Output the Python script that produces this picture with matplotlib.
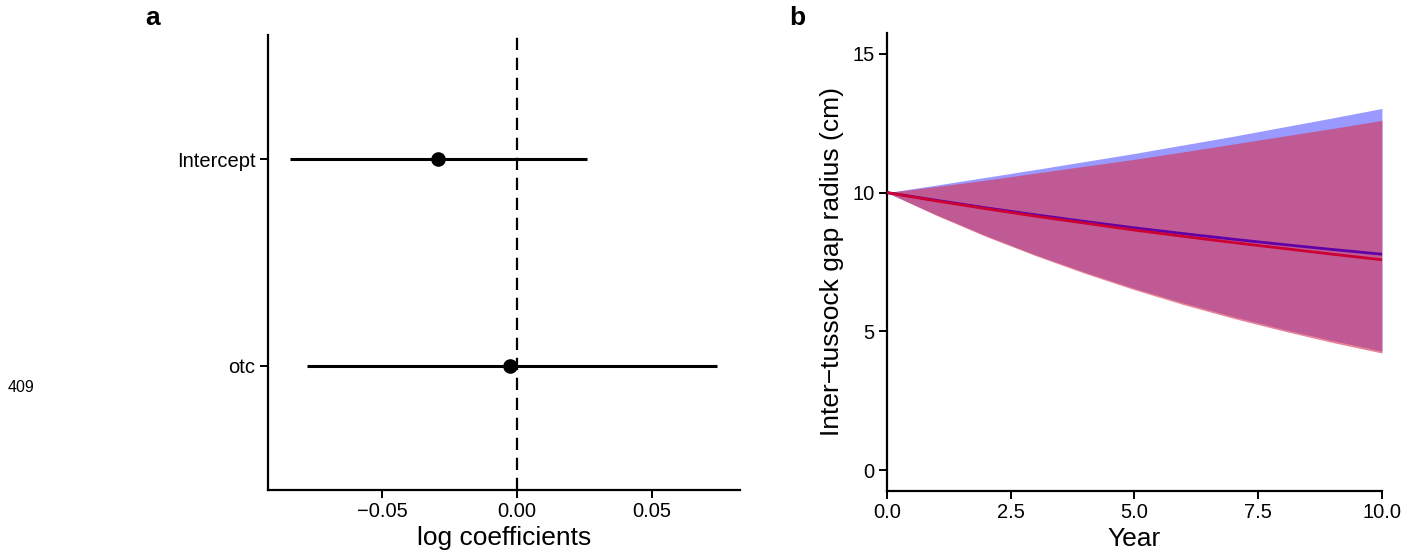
import matplotlib
matplotlib.use("Agg")
import matplotlib.pyplot as plt

plt.rcParams['font.family'] = ['Liberation Sans', 'DejaVu Sans']

# panel a: coefficient estimates with intervals
terms = ["otc", "Intercept"]
est = [-0.0026, -0.0293]
lo = [-0.0778, -0.0841]
hi = [0.0741, 0.0259]

# panel b: predicted gap radius over time
years = [0, 1, 2, 3, 4, 5, 6, 7, 8, 9, 10]
blue_mid = [10, 9.72, 9.45, 9.20, 8.96, 8.73, 8.52, 8.32, 8.13, 7.95, 7.78]
blue_lo = [10, 9.20, 8.45, 7.76, 7.13, 6.55, 6.02, 5.53, 5.08, 4.67, 4.29]
blue_hi = [10, 10.27, 10.55, 10.83, 11.12, 11.41, 11.72, 12.03, 12.36, 12.69, 13.03]
red_mid = [10, 9.70, 9.42, 9.15, 8.90, 8.65, 8.42, 8.20, 7.99, 7.78, 7.58]
red_lo = [10, 9.18, 8.42, 7.73, 7.09, 6.50, 5.96, 5.47, 5.02, 4.60, 4.22]
red_hi = [10, 10.22, 10.45, 10.70, 10.95, 11.20, 11.47, 11.75, 12.03, 12.31, 12.60]

fig = plt.figure(figsize=(14.21, 5.58), dpi=100)
ax1 = fig.add_axes([0.1886, 0.1219, 0.3322, 0.8154])
ax2 = fig.add_axes([0.6242, 0.1201, 0.3483, 0.8208])

for ax in (ax1, ax2):
    for s in ("top", "right"):
        ax.spines[s].set_visible(False)
    for s in ("left", "bottom"):
        ax.spines[s].set_linewidth(1.6)
    ax.tick_params(width=1.4, length=6, labelsize=14.5, colors="black", pad=3)

# ---- a ----
ypos = list(range(1, len(terms) + 1))
ax1.axvline(0, color="black", linestyle=(0, (5.5, 3.5)), linewidth=1.6, zorder=1)
ax1.hlines(ypos, lo, hi, color="black", linewidth=2.2, zorder=2)
ax1.plot(est, ypos, "o", color="black", markersize=9.5, zorder=3)
ax1.set_yticks(ypos)
ax1.set_yticklabels(terms)
ax1.set_ylim(0.4, 2.6)
ax1.set_xlim(-0.0922, 0.0826)
ax1.set_xticks([-0.05, 0.0, 0.05])
ax1.set_xticklabels(["\u22120.05", "0.00", "0.05"])
ax1.set_xlabel("log coefficients", fontsize=19, labelpad=3)

# ---- b ----
ax2.fill_between(years, blue_lo, blue_hi, color="#9999FF", linewidth=0, zorder=1)
ax2.fill_between(years, red_lo, red_hi, color="#DA304E", alpha=0.6, linewidth=0, zorder=2)
ax2.plot(years, blue_mid, color="#6200A8", linewidth=2.0, zorder=3)
ax2.plot(years, red_mid, color="#CC0033", linewidth=2.0, zorder=4)
ax2.set_xlim(0, 10)
ax2.set_ylim(-0.75, 15.75)
ax2.set_xticks([0, 2.5, 5, 7.5, 10])
ax2.set_xticklabels(["0.0", "2.5", "5.0", "7.5", "10.0"])
ax2.set_yticks([0, 5, 10, 15])
ax2.set_xlabel("Year", fontsize=19, labelpad=3)
ax2.set_ylabel("Inter\u2212tussock gap radius (cm)", fontsize=19, labelpad=6)

fig.text(153 / 1421, 1 - 18 / 558, "a", fontsize=19, fontweight="bold", ha="center", va="center")
fig.text(797 / 1421, 1 - 18 / 558, "b", fontsize=19, fontweight="bold", ha="center", va="center")
fig.text(21 / 1421, 1 - 387 / 558, "409", fontsize=11.5, ha="center", va="center")

fig.savefig("out.png", dpi=100)
